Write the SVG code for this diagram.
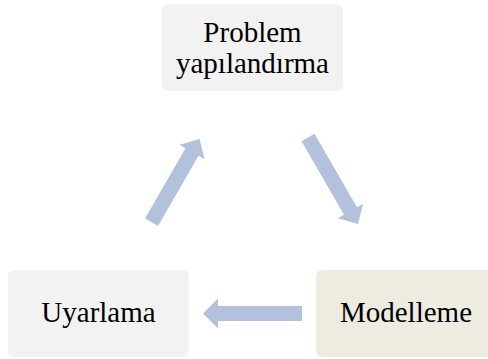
<svg xmlns="http://www.w3.org/2000/svg" width="488" height="359" viewBox="0 0 488 359">
  <style>
    .box { stroke: none; }
    .grey { fill: #f2f2f2; }
    .tan { fill: #eeece1; }
    .label { font-family: "Liberation Serif", "Times New Roman", serif; font-size: 29px; fill: #000000; text-anchor: middle; }
    .arrow { fill: #b3c2dc; stroke: none; }
  </style>
  <rect width="488" height="359" fill="#ffffff"/>

  <g id="connectors">
    <!-- Problem yapılandırma -> Modelleme -->
    <path class="arrow" transform="translate(358,224) rotate(60)" d="M-100,-7.5 H-15 V-14.5 L0,0 L-15,14.5 V7.5 H-100 Z"/>
    <!-- Modelleme -> Uyarlama -->
    <path class="arrow" transform="translate(203,313.5) rotate(180)" d="M-99,-7.5 H-15 V-15 L0,0 L-15,15 V7.5 H-99 Z"/>
    <!-- Uyarlama -> Problem yapılandırma -->
    <path class="arrow" transform="translate(199.5,139) rotate(-60)" d="M-96,-7.5 H-15 V-14.5 L0,0 L-15,14.5 V7.5 H-96 Z"/>
  </g>

  <g id="node-problem">
    <rect class="box grey" x="162" y="4" width="181" height="87" rx="6"/>
    <text class="label" x="252.5" y="42">Problem</text>
    <text class="label" x="252.5" y="73">yapılandırma</text>
  </g>

  <g id="node-modelleme">
    <rect class="box tan" x="316" y="270" width="181" height="87" rx="6"/>
    <text class="label" x="406" y="322">Modelleme</text>
  </g>

  <g id="node-uyarlama">
    <rect class="box grey" x="8" y="270" width="181" height="87" rx="6"/>
    <text class="label" x="98.5" y="322">Uyarlama</text>
  </g>
</svg>
